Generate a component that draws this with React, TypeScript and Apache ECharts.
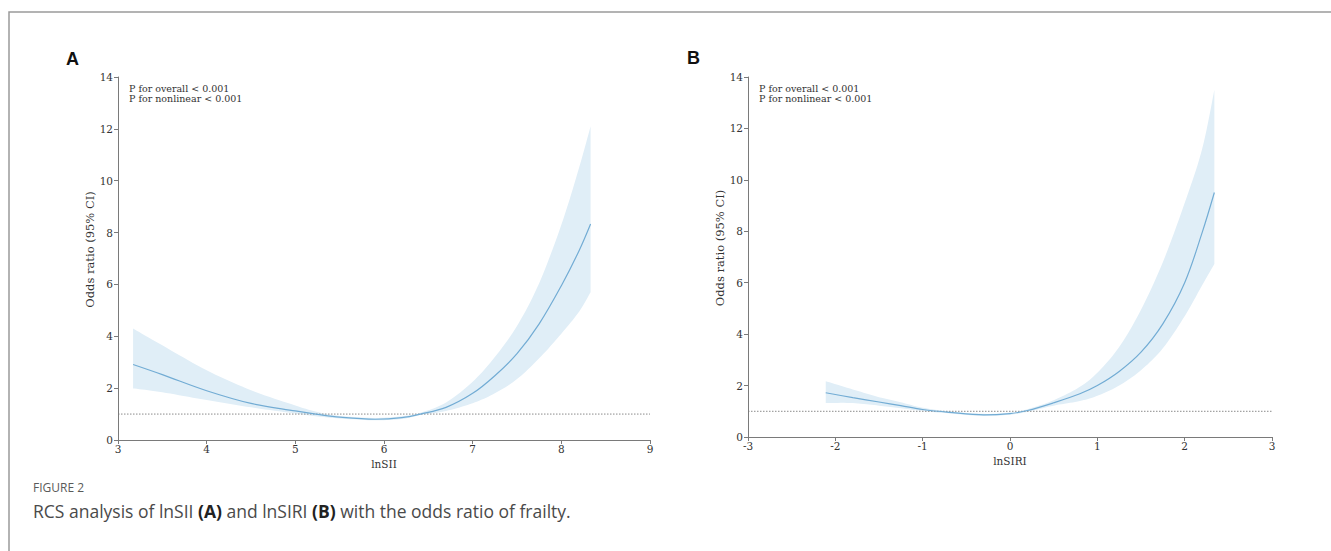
import React, { useEffect, useRef } from "react";
import * as echarts from "echarts";

// Panel A: lnSII
const xA = [3.17, 3.5, 4.0, 4.5, 5.0, 5.25, 5.5, 5.9, 6.2, 6.41, 6.7, 7.0, 7.25, 7.5, 7.75, 8.0, 8.2, 8.33];
const midA = [2.91, 2.52, 1.9, 1.41, 1.12, 0.99, 0.88, 0.8, 0.86, 1.0, 1.26, 1.8, 2.48, 3.33, 4.48, 5.95, 7.3, 8.33];
const upA = [4.3, 3.65, 2.69, 1.92, 1.33, 1.08, 0.93, 0.85, 0.92, 1.05, 1.45, 2.25, 3.2, 4.4, 6.05, 8.3, 10.5, 12.1];
const loA = [1.99, 1.84, 1.54, 1.26, 1.02, 0.91, 0.83, 0.76, 0.81, 0.96, 1.12, 1.42, 1.8, 2.35, 3.15, 4.1, 4.95, 5.7];

// Panel B: lnSIRI
const xB = [-2.11, -1.8, -1.5, -1.25, -1.0, -0.7, -0.3, 0.0, 0.2, 0.5, 0.8, 1.0, 1.25, 1.5, 1.75, 2.0, 2.2, 2.34];
const midB = [1.72, 1.53, 1.36, 1.22, 1.07, 0.96, 0.86, 0.91, 1.03, 1.33, 1.68, 2.0, 2.55, 3.3, 4.4, 6.0, 7.95, 9.51];
const upB = [2.17, 1.85, 1.55, 1.35, 1.14, 1.0, 0.9, 0.95, 1.08, 1.43, 1.95, 2.5, 3.5, 4.95, 6.8, 9.1, 11.2, 13.5];
const loB = [1.32, 1.32, 1.22, 1.12, 1.01, 0.92, 0.82, 0.87, 0.98, 1.22, 1.4, 1.6, 2.0, 2.6, 3.45, 4.7, 5.9, 6.73];

// Axes
const yTicks = [0, 2, 4, 6, 8, 10, 12, 14];
const xTicksA = [3, 4, 5, 6, 7, 8, 9];
const xTicksB = [-3, -2, -1, 0, 1, 2, 3];
const refOR = 1;

const xNameA = "lnSII";
const xNameB = "lnSIRI";
const yName = "Odds ratio (95% CI)";
const pText = "P for overall < 0.001\nP for nonlinear < 0.001";

const SERIF = "DejaVu Serif";
const AXIS_COLOR = "#7a7a7a";
const LABEL_COLOR = "#333";
const LINE_COLOR = "#72acd4";
const BAND_COLOR = "#e0eef7";

const zip = (xs: number[], ys: number[]) => xs.map((x, i) => [x, ys[i]]);

// Catmull-Rom smoothing of already-projected pixel points (rendering only)
function smoothPath(pts: number[][], steps = 10): number[][] {
  const out: number[][] = [];
  const n = pts.length;
  for (let i = 0; i < n - 1; i++) {
    const p0 = pts[Math.max(i - 1, 0)];
    const p1 = pts[i];
    const p2 = pts[i + 1];
    const p3 = pts[Math.min(i + 2, n - 1)];
    for (let s = 0; s < steps; s++) {
      const t = s / steps;
      const t2 = t * t;
      const t3 = t2 * t;
      const f = (a: number, b: number, c: number, d: number) =>
        0.5 * (2 * b + (-a + c) * t + (2 * a - 5 * b + 4 * c - d) * t2 + (-a + 3 * b - 3 * c + d) * t3);
      out.push([f(p0[0], p1[0], p2[0], p3[0]), f(p0[1], p1[1], p2[1], p3[1])]);
    }
  }
  out.push(pts[n - 1]);
  return out;
}

function xAxisDef(grid: number, ticks: number[], name: string) {
  return {
    type: "value",
    gridIndex: grid,
    min: ticks[0],
    max: ticks[ticks.length - 1],
    interval: ticks[1] - ticks[0],
    name,
    nameLocation: "middle",
    nameGap: 13,
    nameTextStyle: { fontFamily: SERIF, fontSize: 10.5, color: LABEL_COLOR },
    axisLine: { show: true, onZero: false, lineStyle: { color: AXIS_COLOR, width: 1 } },
    axisTick: { show: true, length: 4, lineStyle: { color: AXIS_COLOR } },
    axisLabel: { fontFamily: SERIF, fontSize: 10.5, color: LABEL_COLOR, margin: 3 },
    splitLine: { show: false },
    z: 10,
  };
}

function yAxisDef(grid: number) {
  return {
    type: "value",
    gridIndex: grid,
    min: yTicks[0],
    max: yTicks[yTicks.length - 1],
    interval: yTicks[1] - yTicks[0],
    name: yName,
    nameLocation: "middle",
    nameGap: 19,
    nameTextStyle: { fontFamily: SERIF, fontSize: 11.5, color: LABEL_COLOR, padding: [0, 0, 0, 18] },
    axisLine: { show: true, onZero: false, lineStyle: { color: AXIS_COLOR, width: 1 } },
    axisTick: { show: true, length: 4, lineStyle: { color: AXIS_COLOR } },
    axisLabel: { fontFamily: SERIF, fontSize: 10.5, color: LABEL_COLOR, margin: 5 },
    splitLine: { show: false },
    z: 10,
  };
}

function panelSeries(idx: number, xs: number[], mid: number[], up: number[], lo: number[], ticks: number[]) {
  return [
    {
      type: "custom",
      name: "band" + idx,
      coordinateSystem: "cartesian2d",
      xAxisIndex: idx,
      yAxisIndex: idx,
      data: zip(xs, up),
      encode: { x: 0, y: 1 },
      silent: true,
      z: 1,
      renderItem: (params: any, api: any) => {
        if (params.dataIndex !== 0) return null;
        const upPx = xs.map((x, i) => api.coord([x, up[i]]));
        const loPx = xs.map((x, i) => api.coord([x, lo[i]]));
        const pts = smoothPath(upPx).concat(smoothPath(loPx).reverse());
        return {
          type: "polygon",
          shape: { points: pts },
          style: { fill: BAND_COLOR, stroke: "none" },
          silent: true,
        };
      },
    },
    {
      type: "line",
      name: "ref" + idx,
      xAxisIndex: idx,
      yAxisIndex: idx,
      symbol: "none",
      silent: true,
      data: [
        [ticks[0], refOR],
        [ticks[ticks.length - 1], refOR],
      ],
      lineStyle: { color: "#8a8a8a", width: 1, type: [1.5, 1.5] },
      z: 3,
    },
    {
      type: "line",
      name: "mid" + idx,
      xAxisIndex: idx,
      yAxisIndex: idx,
      symbol: "none",
      smooth: 0.35,
      silent: true,
      data: zip(xs, mid),
      lineStyle: { color: LINE_COLOR, width: 1.2 },
      z: 4,
    },
  ];
}

export default function App() {
  const ref = useRef<HTMLDivElement>(null);
  useEffect(() => {
    if (!ref.current) return;
    const chart = echarts.init(ref.current, undefined, { renderer: "svg" });
    const option = {
      animation: false,
      backgroundColor: "#ffffff",
      grid: [
        { left: 118, top: 77, width: 532, height: 363 },
        { left: 748, top: 77, width: 524, height: 360 },
      ],
      xAxis: [xAxisDef(0, xTicksA, xNameA), xAxisDef(1, xTicksB, xNameB)],
      yAxis: [yAxisDef(0), yAxisDef(1)],
      series: [
        ...panelSeries(0, xA, midA, upA, loA, xTicksA),
        ...panelSeries(1, xB, midB, upB, loB, xTicksB),
      ],
      graphic: [
        {
          type: "rect",
          shape: { x: 9, y: 12, width: 1400, height: 700 },
          style: { fill: "none", stroke: "#9a9a9a", lineWidth: 1.5 },
          silent: true,
        },
        {
          type: "text",
          x: 66,
          y: 59,
          style: { text: "A", font: "bold 18px 'Liberation Sans', Arial, sans-serif", fill: "#111", verticalAlign: "middle" },
        },
        {
          type: "text",
          x: 687,
          y: 58,
          style: { text: "B", font: "bold 18px 'Liberation Sans', Arial, sans-serif", fill: "#111", verticalAlign: "middle" },
        },
        {
          type: "text",
          x: 129,
          y: 83,
          style: { text: pText, fontFamily: SERIF, fontSize: 9.5, lineHeight: 10, fill: "#333", verticalAlign: "top" },
        },
        {
          type: "text",
          x: 759,
          y: 83,
          style: { text: pText, fontFamily: SERIF, fontSize: 9.5, lineHeight: 10, fill: "#333", verticalAlign: "top" },
        },
        {
          type: "text",
          x: 33,
          y: 487,
          style: { text: "FIGURE 2", fontFamily: "Open Sans", fontSize: 12, fill: "#5a5a5a", verticalAlign: "middle" },
        },
        {
          type: "text",
          x: 33,
          y: 511,
          style: {
            text: "{n|RCS analysis of lnSII }{b|(A)}{n| and lnSIRI }{b|(B)}{n| with the odds ratio of frailty.}",
            verticalAlign: "middle",
            rich: {
              n: { fontFamily: "Open Sans", fontSize: 17.5, fill: "#4a4a4a", color: "#4a4a4a" },
              b: { fontFamily: "Open Sans", fontSize: 17.5, fontWeight: "bold", fill: "#222", color: "#222" },
            },
          },
        },
      ],
    };
    chart.setOption(option as any);
    return () => chart.dispose();
  }, []);
  return (
    <div
      ref={ref}
      style={{ position: "fixed", left: 0, top: 0, width: 1331, height: 551, background: "#fff" }}
    />
  );
}
